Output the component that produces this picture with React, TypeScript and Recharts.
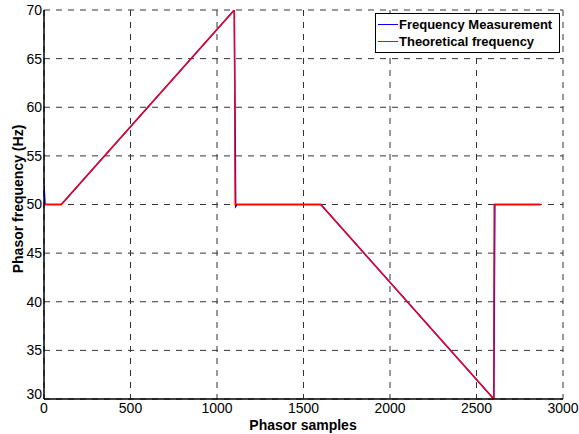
import { LineChart, Line, XAxis, YAxis, CartesianGrid, Legend } from "recharts"

// Theoretical frequency (Hz) vs phasor sample index
const theoretical = [
  { x: 0, y: 50 },
  { x: 100, y: 50 },
  { x: 1100, y: 70 },
  { x: 1105, y: 50 },
  { x: 1600, y: 50 },
  { x: 2600, y: 30 },
  { x: 2602, y: 50 },
  { x: 2870, y: 50 },
]

// Measured frequency (estimator output)
const measured = [
  { x: 0, y: 52 },
  { x: 6, y: 50 },
  { x: 100, y: 50 },
  { x: 1100, y: 70 },
  { x: 1108, y: 49.8 },
  { x: 1116, y: 50 },
  { x: 1600, y: 50 },
  { x: 2600, y: 30 },
  { x: 2606, y: 50 },
  { x: 2870, y: 50 },
]

const xTicks = [0, 500, 1000, 1500, 2000, 2500, 3000]
const yTicks = [30, 35, 40, 45, 50, 55, 60, 65, 70]

const seriesInfo = [
  { name: "Frequency Measurement", color: "#0000ff" },
  { name: "Theoretical frequency", color: "#ff0000" },
]

const font = "'Liberation Sans', Arial, sans-serif"
const tickStyle = { fontSize: 14, fill: "#000", fontFamily: font }

// matlab nudges the lowest y label up so it clears the x labels
function YTick(props: any) {
  const { x, y, payload } = props
  const lift = payload.value === yTicks[0] ? -5 : 0
  return (
    <text
      x={x}
      y={y + lift}
      dy="0.355em"
      textAnchor="end"
      fontFamily={font}
      fontSize={14}
      fill="#000"
    >
      {payload.value}
    </text>
  )
}

function LegendBox() {
  return (
    <div
      style={{
        border: "1px solid #000",
        background: "#fff",
        padding: "2px 4px 2px 2px",
        fontFamily: font,
        fontSize: 13,
        fontWeight: "bold",
        lineHeight: "17px",
        boxSizing: "border-box",
      }}
    >
      {seriesInfo.map((s) => (
        <div key={s.name} style={{ display: "flex", alignItems: "center" }}>
          <span
            style={{
              display: "inline-block",
              width: 20,
              height: 1,
              background: s.color,
              marginRight: 1,
            }}
          />
          {s.name}
        </div>
      ))}
    </div>
  )
}

export default function App() {
  return (
    <div style={{ position: "absolute", left: 0, top: 0, background: "#fff" }}>
      <LineChart
        width={579}
        height={434}
        margin={{ top: 10, right: 16, left: 0, bottom: 0 }}
      >
        <CartesianGrid stroke="#333" strokeDasharray="6 6" />
        <XAxis
          dataKey="x"
          type="number"
          domain={[0, 3000]}
          ticks={xTicks}
          allowDataOverflow
          height={35}
          tickLine={false}
          tickSize={0}
          tickMargin={4}
          tick={tickStyle}
          axisLine={{ stroke: "#000", strokeWidth: 1.5 }}
          label={{
            content: () => (
              <text
                x={303}
                y={430}
                textAnchor="middle"
                fontFamily={font}
                fontSize={14}
                fontWeight="bold"
                fill="#000"
              >
                Phasor samples
              </text>
            ),
          }}
        />
        <XAxis
          xAxisId="top"
          orientation="top"
          type="number"
          domain={[0, 3000]}
          height={0}
          tick={false}
          tickLine={false}
          axisLine={{ stroke: "#000", strokeWidth: 1 }}
        />
        <YAxis
          type="number"
          domain={[30, 70]}
          ticks={yTicks}
          allowDataOverflow
          width={44}
          tickLine={false}
          tickSize={0}
          tickMargin={2}
          tick={<YTick />}
          axisLine={{ stroke: "#000", strokeWidth: 1.5 }}
          label={{
            content: () => (
              <text
                x={23}
                y={199}
                transform="rotate(-90 23 199)"
                textAnchor="middle"
                fontFamily={font}
                fontSize={14}
                fontWeight="bold"
                fill="#000"
              >
                Phasor frequency (Hz)
              </text>
            ),
          }}
        />
        <YAxis
          yAxisId="right"
          orientation="right"
          type="number"
          domain={[30, 70]}
          width={0}
          tick={false}
          tickLine={false}
          axisLine={{ stroke: "#000", strokeWidth: 1 }}
        />
        <Legend
          layout="horizontal"
          verticalAlign="middle"
          align="center"
          wrapperStyle={{ left: 375, top: 13, width: 185 }}
          content={() => <LegendBox />}
        />
        <Line
          data={measured}
          dataKey="y"
          name={seriesInfo[0].name}
          type="linear"
          stroke={seriesInfo[0].color}
          strokeWidth={1.5}
          dot={false}
          isAnimationActive={false}
        />
        <Line
          data={theoretical}
          dataKey="y"
          name={seriesInfo[1].name}
          type="linear"
          stroke={seriesInfo[1].color}
          strokeWidth={1.3}
          dot={false}
          isAnimationActive={false}
        />
      </LineChart>
    </div>
  )
}
